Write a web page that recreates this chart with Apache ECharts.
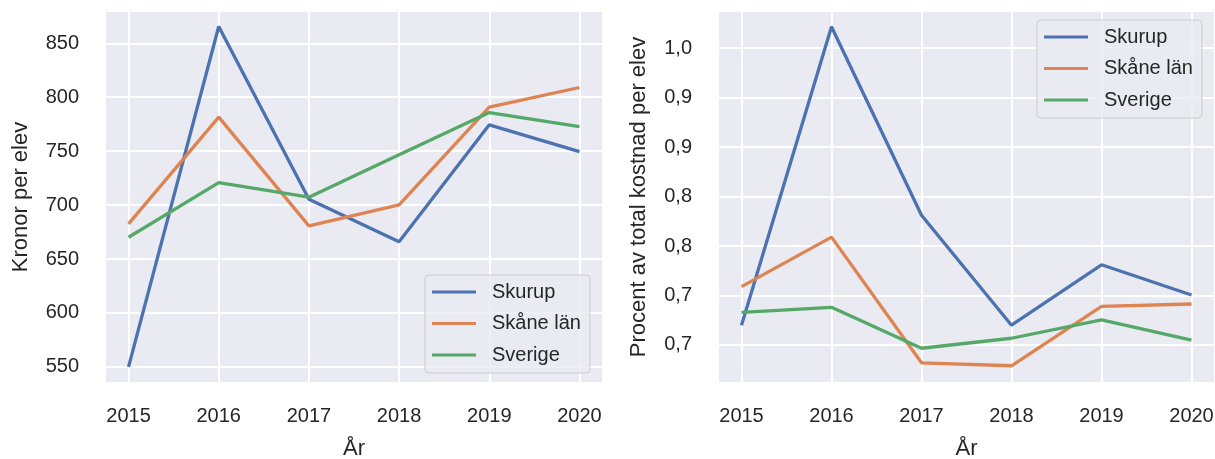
<!DOCTYPE html>
<html>
<head>
<meta charset="utf-8">
<script src="https://cdn.jsdelivr.net/npm/echarts@6/dist/echarts.min.js"></script>
<style>
html,body{margin:0;padding:0;background:#fff;}
#chart{width:1215px;height:459px;}
</style>
</head>
<body>
<div id="chart"></div>
<script>
const years = [2015, 2016, 2017, 2018, 2019, 2020];
const seriesNames = ['Skurup', 'Skåne län', 'Sverige'];
const kronorSkurup = [550, 865.6, 705.5, 666, 774.4, 749.6];
const kronorSkane = [682.6, 781.5, 680.7, 700.2, 790.8, 809];
const kronorSverige = [670.2, 720.9, 707.3, 746.6, 785.8, 772.8];
const procentSkurup = [0.720, 1.0215, 0.831, 0.720, 0.781, 0.7505];
const procentSkane = [0.759, 0.809, 0.682, 0.679, 0.739, 0.7414];
const procentSverige = [0.733, 0.738, 0.6967, 0.7068, 0.7253, 0.705];
const kronorTicks = [550, 600, 650, 700, 750, 800, 850];
const procentTicks = [0.70, 0.75, 0.80, 0.85, 0.90, 0.95, 1.00];
const procentTickLabels = ['0,7', '0,7', '0,8', '0,8', '0,9', '0,9', '1,0'];
const yearTickLabels = ['2015', '2016', '2017', '2018', '2019', '2020'];

const colors = ['#4C72B0', '#DD8452', '#55A868'];
const textColor = '#262626';
const font = 'Liberation Sans, Arial, sans-serif';

function pairs(arr) { return years.map((y, i) => [y, arr[i]]); }

function xAxisCfg(gridIndex) {
  return {
    type: 'value', gridIndex: gridIndex, min: 2014.75, max: 2020.25,
    name: 'År', nameLocation: 'middle', nameGap: 56,
    nameTextStyle: { fontSize: 22, color: textColor, fontFamily: font },
    axisLine: { show: false },
    axisTick: { show: false, customValues: years },
    axisLabel: { customValues: years, margin: 24, fontSize: 20, color: textColor, fontFamily: font,
      formatter: v => yearTickLabels[years.indexOf(Math.round(v))] },
    splitLine: { show: true, lineStyle: { color: '#ffffff', width: 2 } }
  };
}

function yAxisCfg(gridIndex, name, min, max, ticks, fmt, gap) {
  return {
    type: 'value', gridIndex: gridIndex, min: min, max: max,
    name: name, nameLocation: 'middle', nameGap: gap, nameRotate: 90,
    nameTextStyle: { fontSize: 22, color: textColor, fontFamily: font },
    axisLine: { show: false },
    axisTick: { show: false, customValues: ticks },
    axisLabel: { customValues: ticks, margin: 27, fontSize: 20, color: textColor, fontFamily: font, formatter: fmt },
    splitLine: { show: true, lineStyle: { color: '#ffffff', width: 2 } }
  };
}

function legendCfg(left, top) {
  return {
    left: left, top: top, orient: 'vertical',
    data: seriesNames,
    icon: 'rect', itemWidth: 44, itemHeight: 3, itemGap: 11.5,
    padding: [7, 9, 8, 7],
    backgroundColor: 'rgba(234,234,242,0.8)', borderColor: '#cccccc', borderWidth: 1, borderRadius: 4,
    textStyle: { fontSize: 20, color: textColor, fontFamily: font, padding: [0, 0, 0, 11] }
  };
}

function lineSeries(name, data, xi, yi, color) {
  return {
    type: 'line', name: name, data: pairs(data), xAxisIndex: xi, yAxisIndex: yi,
    symbol: 'none', lineStyle: { width: 3.3, color: color }, itemStyle: { color: color },
    animation: false
  };
}

const chart = echarts.init(document.getElementById('chart'), null, { renderer: 'canvas' });
chart.setOption({
  animation: false,
  backgroundColor: '#ffffff',
  grid: [
    { left: 106, right: 613, top: 12, bottom: 77, show: true, backgroundColor: '#EAEAF2', borderWidth: 0,
      containLabel: false, outerBoundsMode: 'none' },
    { left: 719, right: 1, top: 12, bottom: 77, show: true, backgroundColor: '#EAEAF2', borderWidth: 0,
      containLabel: false, outerBoundsMode: 'none' }
  ],
  xAxis: [xAxisCfg(0), xAxisCfg(1)],
  yAxis: [
    yAxisCfg(0, 'Kronor per elev', 536, 879, kronorTicks, v => String(Math.round(v)), 74),
    yAxisCfg(1, 'Procent av total kostnad per elev', 0.6626, 1.0364, procentTicks,
      v => procentTickLabels[procentTicks.findIndex(t => Math.abs(t - v) < 1e-6)], 69)
  ],
  legend: [legendCfg(425, 275), legendCfg(1037, 20)],
  series: [
    lineSeries(seriesNames[0], kronorSkurup, 0, 0, colors[0]),
    lineSeries(seriesNames[1], kronorSkane, 0, 0, colors[1]),
    lineSeries(seriesNames[2], kronorSverige, 0, 0, colors[2]),
    lineSeries(seriesNames[0], procentSkurup, 1, 1, colors[0]),
    lineSeries(seriesNames[1], procentSkane, 1, 1, colors[1]),
    lineSeries(seriesNames[2], procentSverige, 1, 1, colors[2])
  ]
});
</script>
</body>
</html>
